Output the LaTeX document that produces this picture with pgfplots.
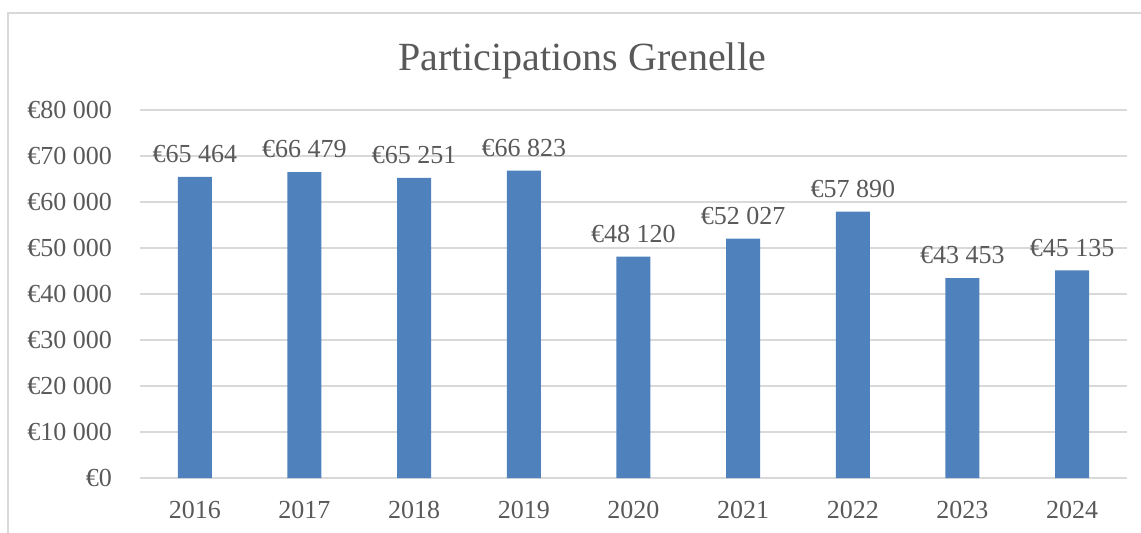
\documentclass[border=0pt]{standalone}
\usepackage{fontspec}
\setmainfont{Liberation Serif}
\usepackage{pgfplots}
\pgfplotsset{compat=1.18}
\definecolor{barblue}{HTML}{4F81BD}
\definecolor{txtgray}{HTML}{595959}
\definecolor{gridgray}{HTML}{D9D9D9}
\begin{document}
\begin{tikzpicture}
\useasboundingbox (0,0) rectangle (570.5pt,266pt);
\begin{scope}
\clip (0,0) rectangle (570.5pt,266pt);
\draw[gridgray, line width=0.8pt] (4pt,-10pt) -- (4pt,259.5pt) -- (600pt,259.5pt);
\end{scope}
\node[txtgray, font=\fontsize{20}{23}\selectfont] at (291pt,235.5pt) {Participations Grenelle};
\begin{axis}[
    at={(70pt,27pt)}, anchor=south west,
    scale only axis,
    width=493.5pt, height=184pt,
    ybar, bar width=17pt,
    ymin=0, ymax=80000,
    ytick={0,10000,...,80000},
    xmin=-0.5, xmax=8.5,
    xtick={0,...,8},
    xticklabels={2016,2017,2018,2019,2020,2021,2022,2023,2024},
    axis line style={draw=none},
    axis x line*=bottom,
    tick style={draw=none},
    ymajorgrids=true,
    grid style={gridgray, line width=0.8pt},
    ticklabel style={txtgray, font=\fontsize{13}{15}\selectfont},
    xticklabel style={yshift=-4pt},
    yticklabel style={xshift=-10.5pt},
    /pgf/number format/.cd, fixed, precision=0, 1000 sep={\ }, assume math mode=true,
    /pgfplots/.cd,
    yticklabel={€\pgfmathprintnumber{\tick}},
    scaled y ticks=false,
    nodes near coords={€\pgfmathprintnumber{\pgfplotspointmeta}},
    every node near coord/.append style={txtgray, font=\fontsize{13}{15}\selectfont, yshift=3.5pt},
]
\addplot[fill=barblue, draw=none] coordinates {
    (0,65464) (1,66479) (2,65251) (3,66823) (4,48120)
    (5,52027) (6,57890) (7,43453) (8,45135)
};
\end{axis}
\end{tikzpicture}
\end{document}
